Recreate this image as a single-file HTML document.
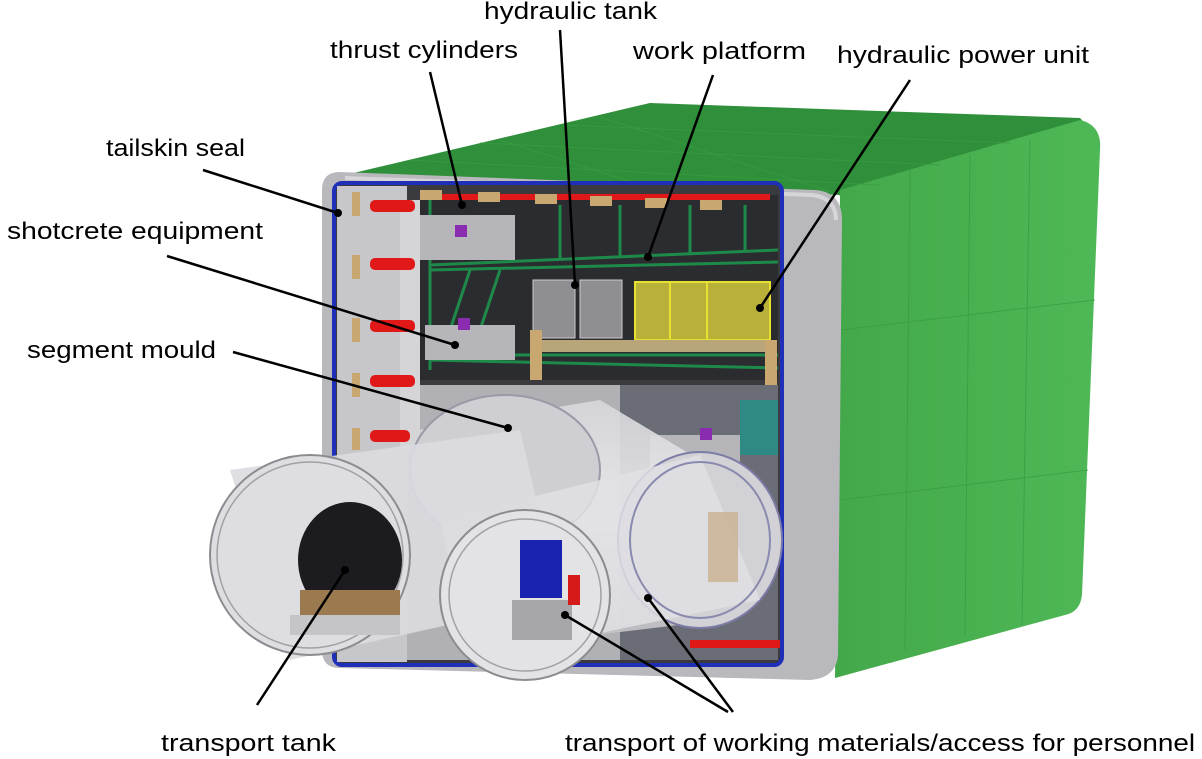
<!DOCTYPE html>
<html><head><meta charset="utf-8"><style>
body{margin:0;background:#fff;width:1202px;height:759px;overflow:hidden}
svg{position:absolute;left:0;top:0}
text{font-family:"Liberation Sans",sans-serif;font-size:24px;fill:#000}
</style></head><body>
<svg width="1202" height="759" viewBox="0 0 1202 759">
<defs>
<linearGradient id="gr" x1="0" x2="1"><stop offset="0" stop-color="#43a84a"/><stop offset="1" stop-color="#4fb856"/></linearGradient>
<linearGradient id="cyl" x1="0" y1="0" x2="0" y2="1"><stop offset="0" stop-color="#d8d8dc"/><stop offset="0.5" stop-color="#eeeef0"/><stop offset="1" stop-color="#bdbdc2"/></linearGradient>
</defs>
<polygon points="345,175 650,103 1080,118 1100,140 840,195" fill="#2f8f3a"/>
<path d="M840,190 L1080,120 Q1102,125 1100,150 L1082,595 Q1080,612 1065,615 L835,678 Z" fill="url(#gr)"/>
<g stroke="#3a9c44" stroke-width="1" fill="none" opacity=".8">
<line x1="410" y1="160" x2="880" y2="185"/><line x1="480" y1="143" x2="940" y2="165"/><line x1="560" y1="125" x2="1010" y2="143"/>
<line x1="500" y1="140" x2="720" y2="210"/><line x1="600" y1="117" x2="840" y2="195"/>
<line x1="910" y1="170" x2="905" y2="650"/><line x1="970" y1="155" x2="965" y2="635"/><line x1="1030" y1="140" x2="1022" y2="625"/>
<line x1="840" y1="330" x2="1095" y2="300"/><line x1="840" y1="500" x2="1088" y2="470"/>
</g>
<path d="M340,172 L815,190 Q842,192 842,220 L838,655 Q836,678 810,680 L340,668 Q322,668 322,650 L322,190 Q322,172 340,172Z" fill="#b8b8bd"/>
<path d="M345,178 L812,195 Q836,198 836,220" stroke="#d6d6da" stroke-width="4" fill="none"/>
<rect x="334" y="183" width="448" height="482" rx="8" fill="#3a3a3f" stroke="#1f2fb8" stroke-width="4"/>
<rect x="400" y="385" width="378" height="275" fill="#b0b0b5"/>
<rect x="620" y="385" width="158" height="275" fill="#6a6d76"/>
<rect x="337" y="186" width="70" height="476" fill="#c7c7cb"/>
<rect x="400" y="200" width="20" height="250" fill="#d5d5d8"/>
<rect x="420" y="195" width="358" height="185" fill="#2b2c30"/>
<g stroke="#1e8a4a" stroke-width="3" fill="none">
<line x1="430" y1="265" x2="778" y2="250"/><line x1="430" y1="270" x2="778" y2="262"/>
<line x1="430" y1="355" x2="778" y2="355"/><line x1="430" y1="360" x2="778" y2="368"/>
<line x1="560" y1="205" x2="560" y2="258"/><line x1="620" y1="205" x2="620" y2="258"/><line x1="690" y1="205" x2="690" y2="255"/><line x1="745" y1="205" x2="745" y2="252"/>
<line x1="470" y1="270" x2="440" y2="360"/><line x1="500" y1="270" x2="470" y2="360"/>
<line x1="430" y1="200" x2="430" y2="370"/>
</g>
<rect x="533" y="280" width="42" height="58" fill="#8e8e93" stroke="#ccc"/>
<rect x="580" y="280" width="42" height="58" fill="#8e8e93" stroke="#ccc"/>
<rect x="635" y="282" width="135" height="58" fill="#b9b03a" stroke="#e6e030" stroke-width="2"/>
<line x1="670" y1="283" x2="670" y2="340" stroke="#e6e030" stroke-width="2"/><line x1="707" y1="283" x2="707" y2="340" stroke="#e6e030" stroke-width="2"/>
<rect x="530" y="340" width="245" height="12" fill="#b8a57a"/>
<g fill="#e01818">
<rect x="430" y="194" width="340" height="6"/>
<rect x="370" y="200" width="45" height="12" rx="5"/><rect x="370" y="258" width="45" height="12" rx="5"/><rect x="370" y="320" width="45" height="12" rx="5"/><rect x="370" y="375" width="45" height="12" rx="5"/><rect x="370" y="430" width="40" height="12" rx="5"/>
<rect x="690" y="640" width="90" height="8"/>
</g>
<g fill="#c8a870">
<rect x="352" y="192" width="8" height="24"/><rect x="352" y="255" width="8" height="24"/><rect x="352" y="318" width="8" height="24"/><rect x="352" y="373" width="8" height="24"/><rect x="352" y="428" width="8" height="22"/>
<rect x="420" y="190" width="22" height="10"/><rect x="478" y="192" width="22" height="10"/><rect x="535" y="194" width="22" height="10"/><rect x="590" y="196" width="22" height="10"/><rect x="645" y="198" width="22" height="10"/><rect x="700" y="200" width="22" height="10"/>
<rect x="530" y="330" width="12" height="50"/><rect x="765" y="340" width="12" height="45"/>
</g>
<g fill="#b5b5ba"><rect x="420" y="215" width="95" height="45"/><rect x="425" y="325" width="90" height="35"/><rect x="650" y="435" width="90" height="40"/></g>
<g fill="#8a2cb0"><rect x="455" y="225" width="12" height="12"/><rect x="458" y="318" width="12" height="12"/><rect x="700" y="428" width="12" height="12"/></g>
<rect x="740" y="400" width="38" height="55" fill="#2f8a86"/>
<path d="M420,430 L600,400 L700,460 L720,620 L470,650 Z" fill="url(#cyl)" opacity=".9"/>
<ellipse cx="505" cy="470" rx="95" ry="75" fill="#cfcfd3" stroke="#9a9aa8" stroke-width="2"/>
<ellipse cx="700" cy="540" rx="82" ry="88" fill="#d2d2d6" stroke="#7c7ca8" stroke-width="2"/>
<path d="M440,520 L700,455 L760,600 L470,660 Z" fill="#e1e1e4" opacity=".85"/>
<ellipse cx="700" cy="540" rx="70" ry="78" fill="none" stroke="#8a8ab0" stroke-width="2"/>
<rect x="708" y="512" width="30" height="70" fill="#c9b28e" opacity=".8"/>
<path d="M230,470 L520,430 L560,600 L290,660 Z" fill="#dcdce0" opacity=".9"/>
<circle cx="310" cy="555" r="100" fill="#dedee2" stroke="#8b8b90" stroke-width="2"/>
<circle cx="310" cy="555" r="93" fill="none" stroke="#a0a0a5" stroke-width="1.5"/>
<ellipse cx="350" cy="560" rx="52" ry="58" fill="#1c1c20"/>
<rect x="300" y="590" width="100" height="25" fill="#9b7a50"/>
<rect x="290" y="615" width="110" height="20" fill="#c5c5c8"/>
<circle cx="525" cy="595" r="85" fill="#e3e3e6" stroke="#8b8b90" stroke-width="2"/>
<circle cx="525" cy="595" r="76" fill="none" stroke="#a0a0a5" stroke-width="1.5"/>
<rect x="520" y="540" width="42" height="58" fill="#1a22b0"/>
<rect x="512" y="600" width="60" height="40" fill="#a7a7ab"/>
<rect x="568" y="575" width="12" height="30" fill="#d41a1a"/>
<g stroke="#000" stroke-width="2.5" fill="none">
<line x1="430" y1="72" x2="462" y2="205"/>
<line x1="560" y1="30" x2="575" y2="285"/>
<line x1="713" y1="75" x2="648" y2="257"/>
<line x1="910" y1="80" x2="760" y2="308"/>
<line x1="203" y1="170" x2="338" y2="213"/>
<line x1="167" y1="256" x2="455" y2="345"/>
<line x1="233" y1="352" x2="508" y2="428"/>
<line x1="257" y1="705" x2="345" y2="570"/>
<line x1="728" y1="712" x2="565" y2="615"/>
<line x1="733" y1="712" x2="648" y2="598"/>
</g>
<g fill="#000">
<circle cx="462" cy="205" r="4"/><circle cx="575" cy="285" r="4"/><circle cx="648" cy="257" r="4"/><circle cx="760" cy="308" r="4"/><circle cx="338" cy="213" r="4"/><circle cx="455" cy="345" r="4"/><circle cx="508" cy="428" r="4"/><circle cx="345" cy="570" r="4"/><circle cx="565" cy="615" r="4"/><circle cx="648" cy="598" r="4"/>
</g>
<text x="484" y="19" textLength="173" lengthAdjust="spacingAndGlyphs">hydraulic tank</text>
<text x="330" y="58" textLength="188" lengthAdjust="spacingAndGlyphs">thrust cylinders</text>
<text x="633" y="59" textLength="173" lengthAdjust="spacingAndGlyphs">work platform</text>
<text x="837" y="63" textLength="252" lengthAdjust="spacingAndGlyphs">hydraulic power unit</text>
<text x="106" y="156" textLength="139" lengthAdjust="spacingAndGlyphs">tailskin seal</text>
<text x="7" y="239" textLength="256" lengthAdjust="spacingAndGlyphs">shotcrete equipment</text>
<text x="27" y="358" textLength="189" lengthAdjust="spacingAndGlyphs">segment mould</text>
<text x="161" y="751" textLength="175" lengthAdjust="spacingAndGlyphs">transport tank</text>
<text x="565" y="751" textLength="630" lengthAdjust="spacingAndGlyphs">transport of working materials/access for personnel</text>
</svg>
</body></html>
